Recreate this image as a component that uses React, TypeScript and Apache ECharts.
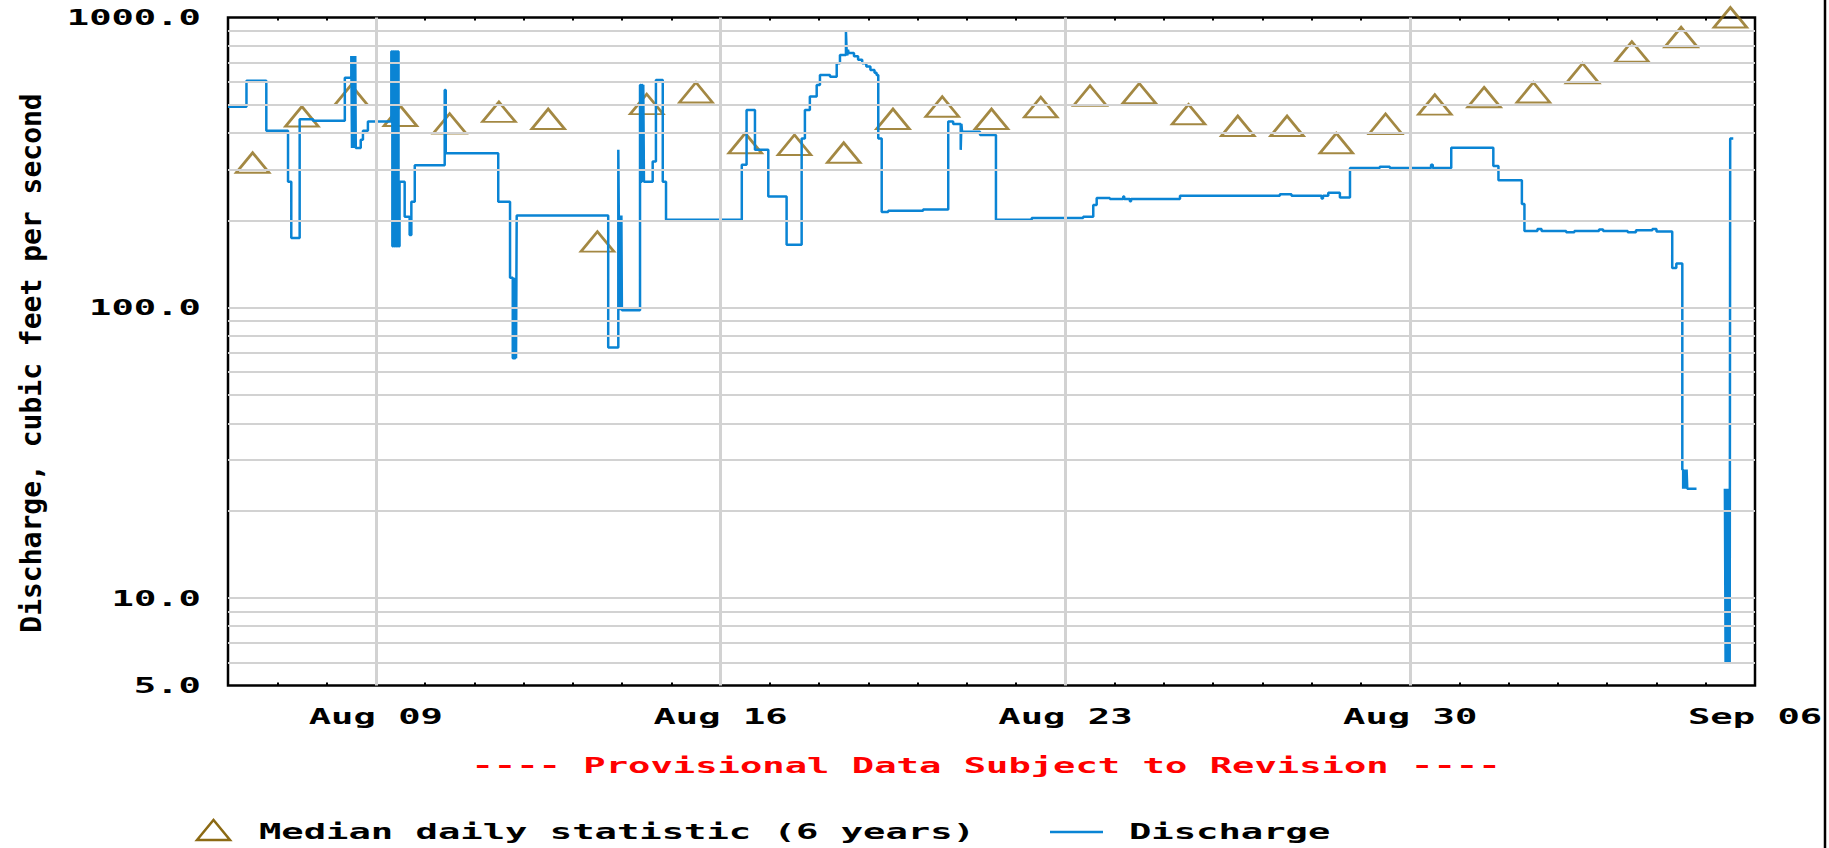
import React, { useEffect, useRef } from "react";
import * as echarts from "echarts";

const YEAR = 2021;

const xTickLabels = ["Aug 09", "Aug 16", "Aug 23", "Aug 30", "Sep 06"];
const xTickDates = ["08-09 00:00", "08-16 00:00", "08-23 00:00", "08-30 00:00", "09-06 00:00"];
const yTickValues = [5, 10, 100, 1000];
const yGridValues = [6, 7, 8, 9, 10, 20, 30, 40, 50, 60, 70, 80, 90, 100, 200, 300, 400, 500, 600, 700, 800, 900];

const yAxisTitle = "Discharge, cubic feet per second";
const noteText = "---- Provisional Data Subject to Revision ----";
const medianName = "Median daily statistic (6 years)";
const dischargeName = "Discharge";

const medianDates = [
  "08-06 12:00", "08-07 12:00", "08-08 12:00", "08-09 12:00", "08-10 12:00", "08-11 12:00",
  "08-12 12:00", "08-13 12:00", "08-14 12:00", "08-15 12:00", "08-16 12:00", "08-17 12:00",
  "08-18 12:00", "08-19 12:00", "08-20 12:00", "08-21 12:00", "08-22 12:00", "08-23 12:00",
  "08-24 12:00", "08-25 12:00", "08-26 12:00", "08-27 12:00", "08-28 12:00", "08-29 12:00",
  "08-30 12:00", "08-31 12:00", "09-01 12:00", "09-02 12:00", "09-03 12:00", "09-04 12:00",
  "09-05 12:00",
];
const medianValues = [
  316, 456, 541, 458, 431, 473, 447, 169, 503, 552, 369, 364, 342, 447, 493, 447,
  491, 538, 548, 464, 423, 423, 369, 430, 501, 531, 552, 642, 763, 855, 1000,
];

const dischargeReadings: [string, number | null][] = [
  ["08-06 00:00", 493], ["08-06 09:00", 606], ["08-06 18:40", 407], ["08-07 05:15", 272],
  ["08-07 06:50", 174], ["08-07 10:55", 446], ["08-07 17:25", 441], ["08-08 08:55", 620],
  ["08-08 12:05", 737], ["08-08 12:25", 355], ["08-08 12:45", 737], ["08-08 13:05", 355],
  ["08-08 13:25", 737], ["08-08 13:45", 355], ["08-08 14:00", 737], ["08-08 14:15", 355],
  ["08-08 16:40", 379], ["08-08 17:45", 407], ["08-08 20:10", 438],
  ["08-09 07:35", 763], ["08-09 08:05", 163], ["08-09 08:35", 763], ["08-09 09:05", 163],
  ["08-09 09:35", 763], ["08-09 10:05", 163], ["08-09 10:35", 763], ["08-09 11:05", 163],
  ["08-09 11:35", 272], ["08-09 14:05", 206], ["08-09 16:30", 178], ["08-09 17:20", 232],
  ["08-09 19:00", 310], ["08-10 09:35", 563], ["08-10 10:05", 341], ["08-11 11:40", 232],
  ["08-11 17:25", 127], ["08-11 18:45", 67], ["08-11 19:10", 126], ["08-11 19:35", 67],
  ["08-11 20:00", 126], ["08-11 20:20", 67], ["08-11 20:40", 208], ["08-13 17:15", 73],
  ["08-13 22:10", 350], ["08-13 22:25", 208], ["08-13 22:45", 98], ["08-13 23:05", 208],
  ["08-13 23:25", 98], ["08-13 23:40", 208], ["08-13 23:55", 98],
  ["08-14 08:45", 586], ["08-14 09:10", 272], ["08-14 09:35", 586], ["08-14 10:00", 272],
  ["08-14 10:20", 586], ["08-14 10:40", 272], ["08-14 14:55", 319], ["08-14 16:30", 609],
  ["08-14 19:50", 272], ["08-14 21:25", 201], ["08-16 10:20", 311], ["08-16 12:40", 480],
  ["08-16 16:45", 350], ["08-16 23:15", 242], ["08-17 08:10", 165], ["08-17 15:30", 383],
  ["08-17 17:05", 480], ["08-17 19:30", 534], ["08-17 22:50", 586], ["08-18 00:25", 634],
  ["08-18 05:20", 625], ["08-18 08:35", 695], ["08-18 10:10", 743], ["08-18 13:05", 894],
  ["08-18 13:25", 770], ["08-18 13:45", 740], ["08-18 14:05", 775], ["08-18 14:25", 755],
  ["08-18 17:00", 735], ["08-18 19:00", 715], ["08-18 21:00", 695], ["08-18 23:00", 678],
  ["08-19 01:00", 660], ["08-19 03:00", 645], ["08-19 04:00", 634], ["08-19 04:50", 383],
  ["08-19 06:30", 214], ["08-19 09:40", 216], ["08-20 02:40", 218], ["08-20 14:55", 438],
  ["08-20 17:20", 430], ["08-20 21:00", 350], ["08-20 21:20", 430], ["08-20 21:40", 404],
  ["08-21 06:25", 394], ["08-21 14:10", 201], ["08-22 07:35", 204], ["08-23 08:40", 206],
  ["08-23 13:35", 226], ["08-23 15:15", 239], ["08-23 21:40", 237], ["08-24 04:10", 242],
  ["08-24 04:40", 237], ["08-24 07:25", 233], ["08-24 08:00", 237], ["08-25 07:50", 243],
  ["08-27 08:30", 246], ["08-27 14:10", 243], ["08-28 04:50", 238], ["08-28 05:30", 243],
  ["08-28 08:05", 249], ["08-28 13:45", 240], ["08-28 18:40", 303], ["08-29 09:10", 306],
  ["08-29 14:05", 303], ["08-30 10:10", 311], ["08-30 11:00", 303], ["08-30 20:00", 356],
  ["08-31 16:30", 308], ["08-31 19:00", 275], ["09-01 06:25", 228], ["09-01 07:40", 184],
  ["09-01 14:00", 187], ["09-01 16:00", 184], ["09-02 04:00", 182], ["09-02 08:00", 184],
  ["09-02 20:00", 186], ["09-02 22:00", 184], ["09-03 10:00", 182], ["09-03 14:00", 185],
  ["09-03 22:00", 187], ["09-04 00:00", 183], ["09-04 07:40", 137], ["09-04 09:40", 142],
  ["09-04 12:35", 27.7], ["09-04 13:00", 23.8], ["09-04 13:20", 27.7], ["09-04 13:40", 23.8],
  ["09-04 14:00", 27.7], ["09-04 14:20", 23.8], ["09-04 14:40", 27.7], ["09-04 15:00", 23.8],
  ["09-04 19:00", 23.8], ["09-04 19:30", null],
  ["09-05 09:20", 23.8], ["09-05 09:40", 6], ["09-05 10:00", 23.8], ["09-05 10:20", 6],
  ["09-05 10:40", 23.8], ["09-05 11:00", 6], ["09-05 11:20", 23.8], ["09-05 11:40", 6],
  ["09-05 11:55", 383], ["09-05 13:25", 383],
];

const ts = (s: string) => {
  const [md, hm] = s.split(" ");
  const [mo, d] = md.split("-").map(Number);
  const [h, mi] = hm.split(":").map(Number);
  return Date.UTC(YEAR, mo - 1, d, h, mi);
};

const DAY = 86400000;
const FONT = "DejaVu Sans Mono";
const BLUE = "#0A84D4";
const OLIVE = "#8C6A14";

export default function App() {
  const ref = useRef<HTMLDivElement>(null);
  useEffect(() => {
    if (!ref.current) return;
    const chart = echarts.init(ref.current, null, { renderer: "svg" });
    const xMin = ts("08-06 00:00");
    const xMax = ts("09-06 00:00");
    const xAxisBase = {
      type: "value" as const,
      min: xMin,
      max: xMax,
      interval: DAY,
      axisLine: { show: false },
      axisTick: { show: true, inside: true, length: 3, lineStyle: { color: "#000", width: 2 } },
      axisLabel: { show: false },
      splitLine: { show: false },
    };
    const yAxisBase = {
      type: "log" as const,
      logBase: 10,
      min: 5,
      max: 1000,
      axisLine: { show: false },
      axisTick: { show: false },
      axisLabel: { show: false },
      splitLine: { show: false },
    };
    chart.setOption({
      animation: false,
      backgroundColor: "#ffffff",
      grid: {
        left: 228,
        right: 74,
        top: 17.5,
        bottom: 162.5,
        show: true,
        borderColor: "#000",
        borderWidth: 2.5,
        backgroundColor: "#fff",
      },
      xAxis: [
        { ...xAxisBase, position: "bottom" },
        { ...xAxisBase, position: "top" },
      ],
      yAxis: [
        { ...yAxisBase, position: "left" },
        { ...yAxisBase, position: "right" },
      ],
      series: [
        {
          type: "line",
          data: [],
          z: 1,
          silent: true,
          markLine: {
            silent: true,
            symbol: ["none", "none"],
            label: { show: false },
            lineStyle: { color: "#d2d2d2", width: 2, type: "solid" },
            data: [
              ...yGridValues.map((v) => ({ yAxis: v })),
              ...xTickDates.slice(0, 4).map((d) => ({ xAxis: ts(d), lineStyle: { color: "#d2d2d2", width: 3, type: "solid" } })),
            ],
          },
        },
        {
          name: medianName,
          type: "scatter",
          z: 3,
          clip: false,
          symbol: "triangle",
          symbolSize: [33, 20],
          itemStyle: { color: "rgba(255,255,255,0)", borderColor: OLIVE, borderWidth: 2.5 },
          data: medianDates.map((d, i) => [ts(d), medianValues[i]]),
        },
        {
          name: dischargeName,
          type: "line",
          z: 4,
          step: "end",
          showSymbol: false,
          symbol: "none",
          connectNulls: false,
          lineStyle: { color: BLUE, width: 2.5 },
          data: dischargeReadings.map(([t, v]) => [ts(t), v === null ? "-" : v]),
        },
      ],
    });

    const px = (t: number) => chart.convertToPixel({ xAxisIndex: 0 }, t) as number;
    const py = (v: number) => chart.convertToPixel({ yAxisIndex: 0 }, v) as number;
    const textStyle = (text: string, fill: string, align: string) => ({
      text,
      fill,
      fontFamily: FONT,
      fontWeight: "bold",
      fontSize: 22,
      align,
      verticalAlign: "middle",
      textAlign: align,
      textVerticalAlign: "middle",
    });
    const SX = 1.69;
    const graphics: any[] = [];
    yTickValues.forEach((v) => {
      graphics.push({
        type: "text",
        x: 201,
        y: py(v),
        scaleX: SX,
        style: textStyle(v.toFixed(1), "#000", "right"),
      });
    });
    xTickDates.forEach((d, i) => {
      graphics.push({
        type: "text",
        x: px(ts(d)),
        y: 716,
        scaleX: SX,
        style: textStyle(xTickLabels[i], "#000", "center"),
      });
    });
    graphics.push({
      type: "text",
      x: 31,
      y: 363,
      rotation: Math.PI / 2,
      style: {
        text: yAxisTitle,
        fill: "#000",
        fontFamily: FONT,
        fontWeight: "bold",
        fontSize: 28,
        align: "center",
        verticalAlign: "middle",
        textAlign: "center",
        textVerticalAlign: "middle",
      },
    });
    graphics.push({
      type: "text",
      x: 986,
      y: 765,
      scaleX: SX,
      style: textStyle(noteText, "#ff0000", "center"),
    });
    graphics.push({
      type: "polygon",
      shape: { points: [[197, 840], [213.5, 820], [230, 840]] },
      style: { fill: "none", stroke: OLIVE, lineWidth: 2.5 },
    });
    graphics.push({
      type: "text",
      x: 259,
      y: 831,
      scaleX: SX,
      style: textStyle(medianName, "#000", "left"),
    });
    graphics.push({
      type: "line",
      shape: { x1: 1050, y1: 832, x2: 1103, y2: 832 },
      style: { stroke: BLUE, lineWidth: 2.5 },
    });
    graphics.push({
      type: "text",
      x: 1129,
      y: 831,
      scaleX: SX,
      style: textStyle(dischargeName, "#000", "left"),
    });
    graphics.push({
      type: "line",
      shape: { x1: 1825, y1: 0, x2: 1825, y2: 848 },
      style: { stroke: "#000", lineWidth: 2.5 },
    });
    chart.setOption({ graphic: graphics });

    return () => chart.dispose();
  }, []);
  return (
    <div
      ref={ref}
      style={{ position: "absolute", left: 0, top: 0, width: "1829px", height: "848px" }}
    />
  );
}
